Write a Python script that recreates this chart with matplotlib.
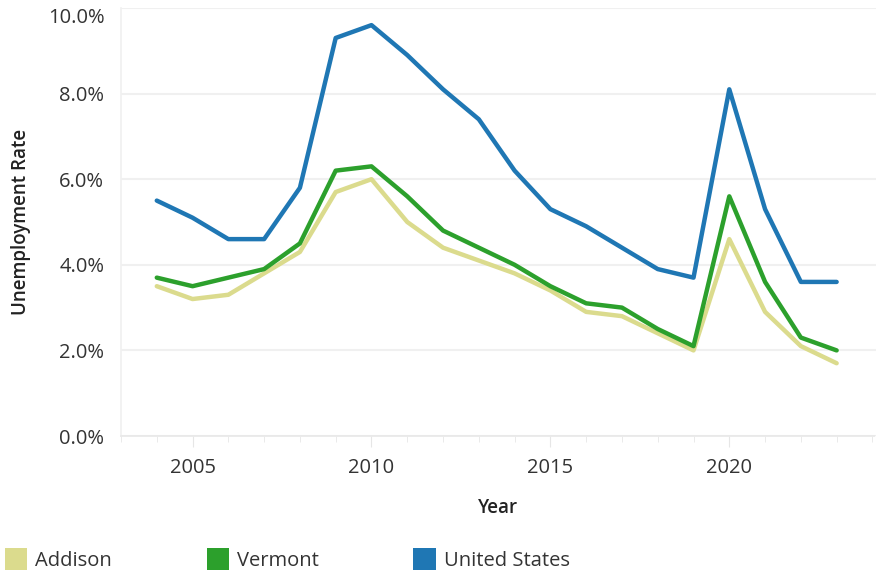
import matplotlib
matplotlib.use("Agg")
import matplotlib.pyplot as plt
from matplotlib.patches import Patch
from matplotlib.ticker import FuncFormatter, MultipleLocator

years = list(range(2004, 2024))
addison = [3.5, 3.2, 3.3, 3.8, 4.3, 5.7, 6.0, 5.0, 4.4, 4.1, 3.8, 3.4, 2.9, 2.8, 2.4, 2.0, 4.6, 2.9, 2.1, 1.7]
vermont = [3.7, 3.5, 3.7, 3.9, 4.5, 6.2, 6.3, 5.6, 4.8, 4.4, 4.0, 3.5, 3.1, 3.0, 2.5, 2.1, 5.6, 3.6, 2.3, 2.0]
united_states = [5.5, 5.1, 4.6, 4.6, 5.8, 9.3, 9.6, 8.9, 8.1, 7.4, 6.2, 5.3, 4.9, 4.4, 3.9, 3.7, 8.1, 5.3, 3.6, 3.6]

series = [("Addison", addison, "#dbdb8d"),
          ("Vermont", vermont, "#2ca02c"),
          ("United States", united_states, "#1f77b4")]

plt.rcParams['font.family'] = ['Open Sans', 'DejaVu Sans']

fig = plt.figure(figsize=(8.77, 5.73), dpi=100)
ax = fig.add_axes([121/877, 1-436/573, (876-121)/877, (436-8)/573])

for name, vals, color in series:
  ax.plot(years, vals, color=color, linewidth=3.2, solid_capstyle='round', solid_joinstyle='round', label=name)

ax.set_xlim(2003, 2024.1)
ax.set_ylim(0, 10.0)
ax.yaxis.set_major_locator(MultipleLocator(2))
ax.yaxis.set_major_formatter(FuncFormatter(lambda v, p: "{:.1f}%".format(v)))
ax.xaxis.set_major_locator(MultipleLocator(5))
ax.xaxis.set_minor_locator(MultipleLocator(1))

ax.grid(True, axis='y', color='#f0f0f0', linewidth=1.5)
ax.set_axisbelow(True)
for s in ("top", "right"):
  ax.spines[s].set_visible(False)
ax.spines["left"].set_color('#f0f0f0')
ax.spines["left"].set_linewidth(1.2)
ax.spines["bottom"].set_color('#e8e8e8')
ax.spines["bottom"].set_linewidth(1.2)
ax.spines["bottom"].set_linestyle((0, (2, 1)))

ax.tick_params(axis='y', length=0, labelsize=14.5, labelcolor='#333333', pad=12)
ax.tick_params(axis='x', which='major', length=8, color='#e6e6e6', labelsize=14.5, labelcolor='#333333', pad=8)
ax.tick_params(axis='x', which='minor', length=4, color='#e6e6e6')

# top label sits inside the plot area, as in the original
fig.canvas.draw()
for lab in ax.get_yticklabels():
  if lab.get_text() == "10.0%":
    lab.set_verticalalignment('top')

ax.set_xlabel("Year", fontsize=13.5, fontweight='semibold', color='#222222', labelpad=14)
ax.set_ylabel("Unemployment Rate", fontsize=13.5, fontweight='semibold', color='#222222', labelpad=12)

handles = [Patch(facecolor=c, edgecolor='none') for _, _, c in series]
labels = [n for n, _, _ in series]
fig.legend(handles, labels, loc='lower left', bbox_to_anchor=(5/877, 0.004), ncol=3, frameon=False,
           fontsize=14.5, handlelength=1.1, handleheight=1.3, handletextpad=0.4, columnspacing=4.7,
           borderpad=0, borderaxespad=0, labelcolor='#333333')

fig.savefig("out.png", dpi=100)
